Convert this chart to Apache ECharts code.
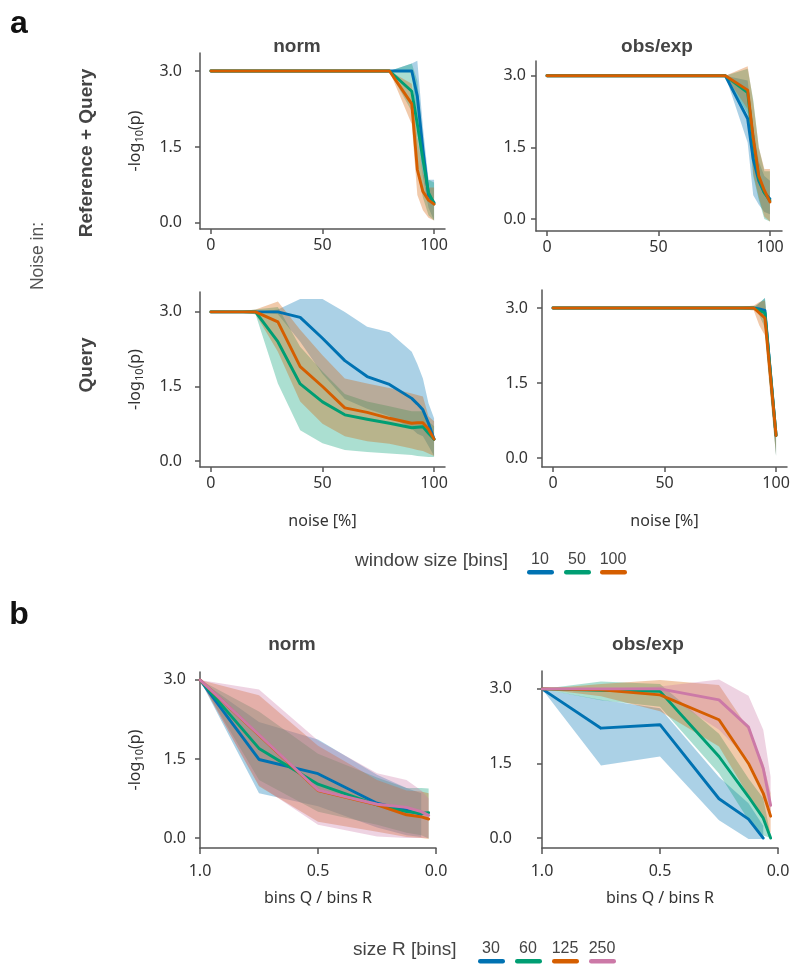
<!DOCTYPE html>
<html>
<head>
<meta charset="utf-8">
<script src="https://cdn.jsdelivr.net/npm/echarts@6/dist/echarts.min.js"></script>
<style>html,body{margin:0;padding:0;background:#fff}#c{width:800px;height:976px}</style>
</head>
<body>
<div id="c"></div>
<script>
// ---------- data ----------
const noiseX = [0, 10, 20, 30, 40, 50, 60, 70, 80, 90, 92.5, 95, 97.5, 100];
const ratioX = [1, 0.75, 0.5, 0.25, 0.125, 0.0625, 0.03125];
const noiseTicks = [0, 50, 100];
const ratioTicks = [0, 0.5, 1];
const pTicks = [0, 1.5, 3];

const windowSizes = ['10', '50', '100'];
const sizeR = ['30', '60', '125', '250'];

// a: norm, noise in reference + query
const rqNorm10 = [3,3,3,3,3,3,3,3,3,3.0,2.5,1.45,0.55,0.40];
const rqNorm10Lo = [3,3,3,3,3,3,3,3,3,3.0,1.8,0.9,0.3,0.05];
const rqNorm10Hi = [3,3,3,3,3,3,3,3,3,3.15,3.2,1.9,0.85,0.85];
const rqNorm50 = [3,3,3,3,3,3,3,3,3,2.6,1.95,1.25,0.6,0.38];
const rqNorm50Lo = [3,3,3,3,3,3,3,3,3,2.2,1.0,0.5,0.15,0.05];
const rqNorm50Hi = [3,3,3,3,3,3,3,3,3,3.15,2.8,1.6,0.85,0.8];
const rqNorm100 = [3,3,3,3,3,3,3,3,3,2.35,1.05,0.62,0.45,0.37];
const rqNorm100Lo = [3,3,3,3,3,3,3,3,3,1.95,0.55,0.25,0.1,0.05];
const rqNorm100Hi = [3,3,3,3,3,3,3,3,3,2.75,1.7,1.0,0.7,0.7];

// a: obs/exp, noise in reference + query
const rqObs10 = [3,3,3,3,3,3,3,3,3,2.1,1.25,0.8,0.55,0.42];
const rqObs10Lo = [3,3,3,3,3,3,3,3,3,1.6,0.5,0.3,0.15,0.1];
const rqObs10Hi = [3,3,3,3,3,3,3,3,3,2.9,1.9,1.2,0.9,0.8];
const rqObs50 = [3,3,3,3,3,3,3,3,3,2.65,1.65,0.85,0.55,0.38];
const rqObs50Lo = [3,3,3,3,3,3,3,3,3,2.2,0.9,0.4,0.0,-0.05];
const rqObs50Hi = [3,3,3,3,3,3,3,3,3,3.15,2.5,1.5,1.0,1.0];
const rqObs100 = [3,3,3,3,3,3,3,3,3,2.7,1.7,0.9,0.6,0.36];
const rqObs100Lo = [3,3,3,3,3,3,3,3,3,2.3,0.95,0.45,0.05,-0.05];
const rqObs100Hi = [3,3,3,3,3,3,3,3,3,3.2,2.45,1.5,1.05,1.05];

// a: norm, noise in query
const qNorm10 = [3,3,3,3.0,2.89,2.47,2.02,1.70,1.54,1.26,1.15,1.03,0.76,0.44];
const qNorm10Lo = [3,3,3,2.95,2.4,1.75,1.25,1.05,0.9,0.65,0.55,0.5,0.3,0.1];
const qNorm10Hi = [3,3,3,3.05,3.26,3.26,3.0,2.70,2.59,2.2,1.95,1.66,1.16,0.86];
const qNorm50 = [3,3,3,2.40,1.55,1.19,0.93,0.84,0.76,0.67,0.68,0.69,0.56,0.44];
const qNorm50Lo = [3,3,2.95,1.56,0.62,0.36,0.22,0.18,0.15,0.12,0.1,0.09,0.08,0.08];
const qNorm50Hi = [3,3,3.05,3.1,2.3,1.8,1.35,1.2,1.1,1.0,1.0,1.0,0.8,0.7];
const qNorm100 = [3,3,3,2.80,1.90,1.50,1.07,0.98,0.86,0.76,0.77,0.77,0.64,0.44];
const qNorm100Lo = [3,3,2.95,2.2,1.2,0.75,0.5,0.4,0.35,0.25,0.22,0.2,0.15,0.1];
const qNorm100Hi = [3,3,3.05,3.21,2.64,2.13,1.66,1.56,1.47,1.36,1.33,1.3,0.9,0.8];

// a: obs/exp, noise in query
const qObs10 = [3,3,3,3,3,3,3,3,3,3,2.98,2.95,1.7,0.45];
const qObs10Lo = [3,3,3,3,3,3,3,3,3,3,2.9,2.75,1.4,0.05];
const qObs10Hi = [3,3,3,3,3,3,3,3,3,3.0,3.1,3.2,2.0,0.7];
const qObs50 = [3,3,3,3,3,3,3,3,3,3,2.95,2.9,1.67,0.45];
const qObs50Lo = [3,3,3,3,3,3,3,3,3,3,2.85,2.6,1.3,0.03];
const qObs50Hi = [3,3,3,3,3,3,3,3,3,3.02,3.1,3.2,2.0,0.7];
const qObs100 = [3,3,3,3,3,3,3,3,3,3,2.9,2.8,1.62,0.45];
const qObs100Lo = [3,3,3,3,3,3,3,3,3,2.95,2.65,2.45,1.2,0.05];
const qObs100Hi = [3,3,3,3,3,3,3,3,3,3.05,3.12,3.15,2.0,0.75];

// b: norm
const bNorm30 = [3.0,1.49,1.22,0.66,0.53,0.45,null];
const bNorm30Lo = [3,0.85,0.6,0.2,0.05,0.02,null];
const bNorm30Hi = [3,2.2,1.87,1.2,0.95,0.85,null];
const bNorm60 = [3.0,1.70,1.02,0.63,0.50,0.47,0.48];
const bNorm60Lo = [3,1.1,0.5,0.25,0.1,0.05,-0.01];
const bNorm60Hi = [3,2.4,1.6,1.15,0.95,0.95,0.94];
const bNorm125 = [3.0,1.95,0.90,0.63,0.44,0.40,0.36];
const bNorm125Lo = [3,0.98,0.31,0.12,0.02,0.0,-0.02];
const bNorm125Hi = [3,2.71,1.75,1.1,0.9,0.88,0.85];
const bNorm250 = [3.0,1.96,0.91,0.64,0.58,0.50,0.43];
const bNorm250Lo = [3,1.0,0.25,0.03,0.0,0.0,0.0];
const bNorm250Hi = [3,2.82,1.85,1.23,1.10,0.9,0.75];

// b: obs/exp
const bObs30 = [3.0,2.21,2.28,0.79,0.38,0.0,null];
const bObs30Lo = [3,1.46,1.64,0.36,-0.02,-0.02,null];
const bObs30Hi = [3,2.78,2.61,1.23,0.7,0.25,null];
const bObs60 = [3.0,2.97,2.95,1.64,0.83,0.40,0.0];
const bObs60Lo = [3,2.77,2.64,1.30,0.36,0.05,0.0];
const bObs60Hi = [3,3.15,3.1,2.1,1.2,0.8,0.05];
const bObs125 = [3.0,2.98,2.88,2.38,1.50,0.90,0.44];
const bObs125Lo = [3,2.85,2.55,1.84,0.85,0.4,0.1];
const bObs125Hi = [3,3.1,3.18,3.08,2.2,1.5,0.9];
const bObs250 = [3.0,3.0,3.0,2.78,2.23,1.40,0.66];
const bObs250Lo = [3,3.0,2.95,2.18,1.57,0.9,0.45];
const bObs250Hi = [3,3.0,3.05,3.19,2.86,2.18,1.23];

// ---------- style ----------
const C = { blue: '#0072B2', green: '#009E73', orange: '#D55E00', pink: '#CC79A7' };
const aColors = [C.blue, C.green, C.orange];
const bColors = [C.blue, C.green, C.orange, C.pink];
const TICK_FONT = '"Noto Sans", sans-serif';
const HEAD_FONT = '"Liberation Sans", Arial, sans-serif';
const AX = '#555';

const panels = [
  { left: 200, top: 53, width: 245, height: 176, xmin: -4.9, xmax: 104.9, ymin: -0.12, ymax: 3.355, kind: 'a', ylab: 18, yname: true, xname: null,
    x: noiseX, lines: [rqNorm10, rqNorm50, rqNorm100], lo: [rqNorm10Lo, rqNorm50Lo, rqNorm100Lo], hi: [rqNorm10Hi, rqNorm50Hi, rqNorm100Hi] },
  { left: 536, top: 61, width: 246, height: 170, xmin: -4.93, xmax: 105.4, ymin: -0.25, ymax: 3.31, kind: 'a', ylab: 10, yname: false, xname: null,
    x: noiseX, lines: [rqObs10, rqObs50, rqObs100], lo: [rqObs10Lo, rqObs50Lo, rqObs100Lo], hi: [rqObs10Hi, rqObs50Hi, rqObs100Hi] },
  { left: 200, top: 292, width: 245, height: 175, xmin: -4.9, xmax: 104.9, ymin: -0.12, ymax: 3.40, kind: 'a', ylab: 18, yname: true, xname: 'noise [%]',
    x: noiseX, lines: [qNorm10, qNorm50, qNorm100], lo: [qNorm10Lo, qNorm50Lo, qNorm100Lo], hi: [qNorm10Hi, qNorm50Hi, qNorm100Hi] },
  { left: 542, top: 290, width: 245, height: 177, xmin: -4.93, xmax: 104.9, ymin: -0.18, ymax: 3.36, kind: 'a', ylab: 14, yname: false, xname: 'noise [%]',
    x: noiseX, lines: [qObs10, qObs50, qObs100], lo: [qObs10Lo, qObs50Lo, qObs100Lo], hi: [qObs10Hi, qObs50Hi, qObs100Hi] },
  { left: 200, top: 672, width: 236, height: 176, xmin: 0, xmax: 1, ymin: -0.19, ymax: 3.15, kind: 'b', ylab: 14, yname: true, xname: 'bins Q / bins R',
    x: ratioX, lines: [bNorm30, bNorm60, bNorm125, bNorm250], lo: [bNorm30Lo, bNorm60Lo, bNorm125Lo, bNorm250Lo], hi: [bNorm30Hi, bNorm60Hi, bNorm125Hi, bNorm250Hi] },
  { left: 542, top: 671, width: 236, height: 177, xmin: 0, xmax: 1, ymin: -0.2, ymax: 3.36, kind: 'b', ylab: 30, yname: false, xname: 'bins Q / bins R',
    x: ratioX, lines: [bObs30, bObs60, bObs125, bObs250], lo: [bObs30Lo, bObs60Lo, bObs125Lo, bObs250Lo], hi: [bObs30Hi, bObs60Hi, bObs125Hi, bObs250Hi] }
];

const grids = [], xAxes = [], yAxes = [], series = [];
const axLine = { show: true, onZero: false, lineStyle: { color: AX, width: 1.5 } };

function bandSeries(gi, pts, color) {
  return {
    type: 'custom', xAxisIndex: gi, yAxisIndex: gi, silent: true, z: 1,
    data: pts, encode: { x: 0, y: [1, 2] },
    renderItem: function (params, api) {
      if (params.dataIndex !== 0) return null;
      const up = pts.map(d => api.coord([d[0], d[2]]));
      const dn = pts.map(d => api.coord([d[0], d[1]])).reverse();
      return { type: 'polygon', shape: { points: up.concat(dn) }, style: { fill: color, opacity: 0.33 } };
    }
  };
}

panels.forEach((p, gi) => {
  grids.push({ left: p.left, top: p.top, width: p.width, height: p.height, containLabel: false });
  const isA = p.kind === 'a';
  const xt = isA ? noiseTicks : ratioTicks;
  xAxes.push({
    gridIndex: gi, type: 'value', min: p.xmin, max: p.xmax, inverse: !isA,
    axisLine: axLine,
    axisTick: { show: true, length: isA ? 5 : 6, customValues: xt, lineStyle: { color: AX, width: 1.5 } },
    axisLabel: { customValues: xt, fontSize: 16, color: '#333', fontFamily: TICK_FONT, margin: isA ? 8 : 15,
      formatter: v => isA ? String(v) : v.toFixed(1) },
    splitLine: { show: false },
    name: p.xname || '', nameLocation: 'middle', nameGap: isA ? 46 : 42,
    nameTextStyle: { fontSize: 16, color: '#333', fontFamily: TICK_FONT }
  });
  yAxes.push({
    gridIndex: gi, type: 'value', min: p.ymin, max: p.ymax,
    axisLine: axLine,
    axisTick: { show: true, length: 5, customValues: pTicks, lineStyle: { color: AX, width: 1.5 } },
    axisLabel: { customValues: pTicks, fontSize: 16, color: '#333', fontFamily: TICK_FONT, margin: p.ylab,
      formatter: v => v.toFixed(1) },
    splitLine: { show: false },
    name: p.yname ? '{a|-log}{s|10}{a|(p)}' : '', nameLocation: 'middle', nameGap: 55, nameRotate: 90,
    nameTextStyle: { rich: {
      a: { fontSize: 16, color: '#333', fontFamily: TICK_FONT, lineHeight: 20 },
      s: { fontSize: 11, color: '#333', fontFamily: TICK_FONT, lineHeight: 11, verticalAlign: 'bottom' }
    } }
  });
  const cols = isA ? aColors : bColors;
  p.lines.forEach((_, si) => {
    const pts = p.x.map((x, i) => [x, p.lo[si][i], p.hi[si][i]]).filter(d => d[1] != null && d[2] != null);
    series.push(bandSeries(gi, pts, cols[si]));
  });
  p.lines.forEach((arr, si) => {
    const idx = p.x.map((_, i) => i).filter(i => arr[i] != null);
    series.push({
      type: 'line', xAxisIndex: gi, yAxisIndex: gi, symbol: 'none', z: 3 + si, silent: true,
      lineStyle: { color: cols[si], width: 2.9, join: 'round', cap: 'round' },
      data: idx.map(i => [p.x[i], arr[i]])
    });
  });
});

// ---------- text annotations ----------
const graphics = [];
function txt(x, y, text, o) {
  graphics.push(Object.assign({ type: 'text', x: x, y: y,
    style: Object.assign({ text: text, fill: '#444', align: 'center', verticalAlign: 'middle',
      fontFamily: HEAD_FONT, fontSize: 18 }, o && o.style) }, o && o.el));
}
txt(19, 24, 'a', { style: { fontSize: 32, fontWeight: 'bold', fill: '#111' } });
txt(19, 615, 'b', { style: { fontSize: 32, fontWeight: 'bold', fill: '#111' } });
txt(297, 47, 'norm', { style: { fontSize: 19, fontWeight: 'bold' } });
txt(657, 47, 'obs/exp', { style: { fontSize: 19, fontWeight: 'bold' } });
txt(292, 645, 'norm', { style: { fontSize: 19, fontWeight: 'bold' } });
txt(648, 645, 'obs/exp', { style: { fontSize: 19, fontWeight: 'bold' } });
txt(87, 153, 'Reference + Query', { style: { fontSize: 19, fontWeight: 'bold' }, el: { rotation: Math.PI / 2 } });
txt(87, 365, 'Query', { style: { fontSize: 19, fontWeight: 'bold' }, el: { rotation: Math.PI / 2 } });
txt(38, 256, 'Noise in:', { style: { fontSize: 17.5, fill: '#555' }, el: { rotation: Math.PI / 2 } });

// legends
txt(355, 561, 'window size [bins]', { style: { fontSize: 19, align: 'left' } });
const aLegX = [540, 577, 613];
windowSizes.forEach((s, i) => {
  txt(aLegX[i], 560, s, { style: { fontSize: 16 } });
  graphics.push({ type: 'rect', shape: { x: aLegX[i] - 13, y: 570, width: 27, height: 4.5, r: 2.2 }, style: { fill: aColors[i] } });
});
txt(353, 950, 'size R [bins]', { style: { fontSize: 19, align: 'left' } });
const bLegX = [491, 528, 565, 602];
sizeR.forEach((s, i) => {
  txt(bLegX[i], 949, s, { style: { fontSize: 16 } });
  graphics.push({ type: 'rect', shape: { x: bLegX[i] - 13, y: 959, width: 27, height: 4.5, r: 2.2 }, style: { fill: bColors[i] } });
});

const chart = echarts.init(document.getElementById('c'), null, { renderer: 'canvas' });
chart.setOption({
  animation: false,
  backgroundColor: '#fff',
  grid: grids, xAxis: xAxes, yAxis: yAxes, series: series,
  graphic: graphics
});
</script>
</body>
</html>
